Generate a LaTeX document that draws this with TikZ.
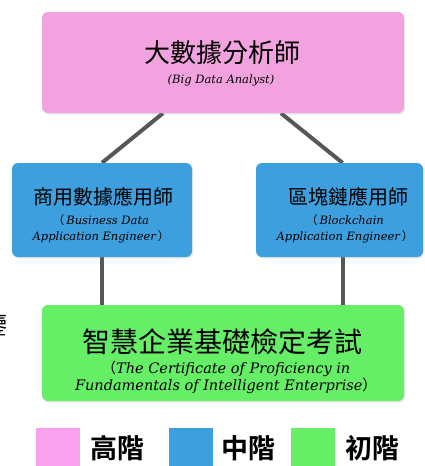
\documentclass[tikz,border=0pt]{standalone}
\usepackage{fontspec}
\newfontfamily\cjk{Noto Sans CJK TC}
\newfontfamily\cjkbold{Noto Sans CJK TC Bold}
\newfontfamily\enfont{DejaVu Serif}
\usetikzlibrary{positioning,shadows,backgrounds}

\definecolor{highpink}{HTML}{F2A3DF}
\definecolor{keypink}{HTML}{FBA2EE}
\definecolor{midblue}{HTML}{3D9FDE}
\definecolor{lowgreen}{HTML}{66EE66}
\definecolor{linkgray}{HTML}{575757}

\tikzset{
  levelbox/.style={rounded corners=6pt, inner sep=0pt,
    drop shadow={opacity=0.18, shadow xshift=1pt, shadow yshift=-1.5pt}},
  zhtitle/.style={inner sep=0pt, font=\cjk\fontsize{#1}{#1}\selectfont},
  entitle/.style={inner sep=0pt, align=center, font=\enfont\itshape\fontsize{#1}{16}\selectfont},
  link/.style={draw=linkgray, line width=4pt},
  keybox/.style={inner sep=0pt, minimum width=44pt, minimum height=40pt, anchor=north west},
  keytext/.style={inner sep=0pt, font=\cjkbold\fontsize{27}{27}\selectfont}
}

\begin{document}
\begin{tikzpicture}[x=1pt,y=-1pt]
\useasboundingbox (0,0) rectangle (425,466);

% cut-off character at the left edge
\node[zhtitle=25, anchor=east] (edgechar) at (8,325) {鑒};

% top level
\node[levelbox, fill=highpink, minimum width=362pt, minimum height=101pt] (analyst) at (223,62.5) {};
\node[zhtitle=26] (analyst-zh) at (222,53) {大數據分析師};
\node[entitle=11.5] (analyst-en) at (221,80) {(Big Data Analyst)};

% middle level
\node[levelbox, fill=midblue, minimum width=180pt, minimum height=94pt] (biz) at (102,210) {};
\node[zhtitle=20] (biz-zh) at (104,197) {商用數據應用師};
\node[entitle=11.5] (biz-en) at (101,229) {{\cjk\upshape （\,}Business Data\\Application Engineer{\cjk\upshape \,）}};

\node[levelbox, fill=midblue, minimum width=167pt, minimum height=94pt] (chain) at (339.5,210) {};
\node[zhtitle=20] (chain-zh) at (348,197) {區塊鏈應用師};
\node[entitle=11.5] (chain-en) at (345,229) {{\cjk\upshape （\,}Blockchain\\Application Engineer{\cjk\upshape \,）}};

% base level
\node[levelbox, fill=lowgreen, minimum width=362pt, minimum height=96pt] (cert) at (223,353) {};
\node[zhtitle=28] (cert-zh) at (222,342) {智慧企業基礎檢定考試};
\node[entitle=15, font=\enfont\itshape\fontsize{14.5}{17}\selectfont] (cert-en) at (226,377.5)
  {{\cjk\upshape （}The Certificate of Proficiency in\\Fundamentals of Intelligent Enterprise{\cjk\upshape ）}};

% connectors behind the boxes
\begin{pgfonlayer}{background}
  \draw[link] ([xshift=-60pt]analyst.south) -- (biz.north);
  \draw[link] ([xshift=58pt]analyst.south) -- ([xshift=3pt]chain.north);
  \draw[link] (biz.south) -- (biz.south |- cert.north);
  \draw[link] ([xshift=3.5pt]chain.south) -- ([xshift=3.5pt]chain.south |- cert.north);
\end{pgfonlayer}

% legend
\node[keybox, fill=keypink] (key-high) at (36,428) {};
\node[keytext, right=10pt of key-high] (key-high-text) {高階};
\node[keybox, fill=midblue] (key-mid) at (169,428) {};
\node[keytext, right=8pt of key-mid] (key-mid-text) {中階};
\node[keybox, fill=lowgreen] (key-low) at (291,428) {};
\node[keytext, right=10pt of key-low] (key-low-text) {初階};

\end{tikzpicture}
\end{document}
